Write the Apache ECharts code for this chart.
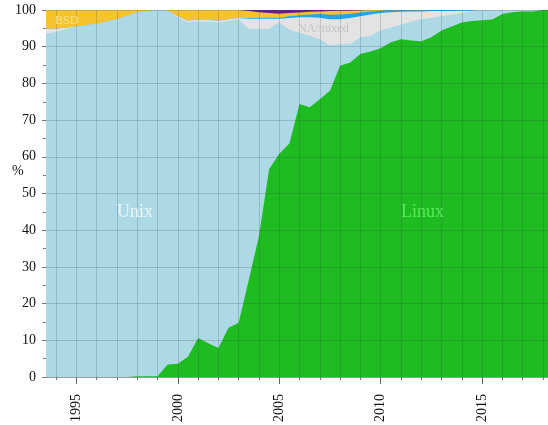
<!DOCTYPE html>
<html>
<head>
<meta charset="utf-8">
<script src="https://cdn.jsdelivr.net/npm/echarts@6/dist/echarts.min.js"></script>
<style>
  html, body { margin: 0; padding: 0; background: #fff; }
  #chart { width: 548px; height: 425px; }
</style>
</head>
<body>
<div id="chart"></div>
<script>
// TOP500 lists, June / November
var dates = [1993.5, 1994, 1994.5, 1995, 1995.5, 1996, 1996.5, 1997, 1997.5, 1998,
    1998.5, 1999, 1999.5, 2000, 2000.5, 2001, 2001.5, 2002, 2002.5, 2003,
    2003.5, 2004, 2004.5, 2005, 2005.5, 2006, 2006.5, 2007, 2007.5, 2008,
    2008.5, 2009, 2009.5, 2010, 2010.5, 2011, 2011.5, 2012, 2012.5, 2013,
    2013.5, 2014, 2014.5, 2015, 2015.5, 2016, 2016.5, 2017, 2017.5, 2018, 2018.5];

var linux = [0, 0, 0, 0, 0, 0, 0, 0, 0, 0.2,
    0.2, 0.2, 3.4, 3.6, 5.5, 10.6, 9.2, 7.9, 13.4, 14.8,
    26.5, 38.4, 56.6, 60.8, 63.6, 74.4, 73.5, 75.7, 78.0, 84.8,
    85.7, 88.0, 88.7, 89.6, 91.2, 92.0, 91.7, 91.5, 92.6, 94.4,
    95.5, 96.6, 97.0, 97.2, 97.4, 98.9, 99.4, 99.6, 99.6, 100, 100];

var unix = [93.6, 94.0, 94.8, 95.5, 95.9, 96.2, 96.9, 97.5, 98.4, 99.1,
    99.5, 99.8, 96.4, 94.4, 91.1, 86.3, 87.6, 88.7, 83.6, 82.7,
    68.3, 56.4, 38.2, 35.8, 31.0, 19.4, 19.5, 16.4, 12.3, 5.9,
    5.0, 4.6, 4.2, 4.9, 4.0, 4.0, 5.1, 6.0, 5.2, 3.9,
    3.3, 2.6, 2.6, 2.8, 2.6, 1.1, 0.6, 0.4, 0.4, 0, 0];

var mixed = [1.3, 0.9, 0.4, 0, 0, 0, 0, 0, 0, 0,
    0, 0, 0, 0.3, 0.5, 0.5, 0.5, 0.5, 0.5, 0.3,
    2.8, 2.8, 2.8, 1.0, 3.2, 4.2, 5.0, 5.8, 7.2, 6.8,
    7.1, 5.7, 5.9, 4.7, 4.2, 3.5, 2.8, 2.1, 1.9, 1.4,
    0.9, 0.6, 0.2, 0, 0, 0, 0, 0, 0, 0, 0];

var windows = [0, 0, 0, 0, 0, 0, 0, 0, 0, 0,
    0, 0, 0, 0, 0, 0, 0, 0, 0, 0,
    0.2, 0.3, 0.3, 0.3, 0.5, 0.6, 0.8, 1.0, 1.2, 1.3,
    1.2, 1.0, 0.8, 0.6, 0.5, 0.4, 0.3, 0.3, 0.3, 0.3,
    0.3, 0.2, 0.2, 0, 0, 0, 0, 0, 0, 0, 0];

var bsd = [5.1, 5.1, 4.8, 4.5, 4.1, 3.8, 3.1, 2.5, 1.6, 0.7,
    0.3, 0, 0.2, 1.7, 2.9, 2.6, 2.7, 2.9, 2.5, 2.2,
    1.9, 1.5, 1.3, 1.1, 0.9, 0.7, 0.7, 0.7, 1.0, 1.0,
    0.8, 0.6, 0.4, 0.2, 0.1, 0.1, 0.1, 0.1, 0, 0,
    0, 0, 0, 0, 0, 0, 0, 0, 0, 0, 0];

var mac = [0, 0, 0, 0, 0, 0, 0, 0, 0, 0,
    0, 0, 0, 0, 0, 0, 0, 0, 0, 0,
    0.3, 0.6, 0.8, 1.0, 0.8, 0.7, 0.5, 0.4, 0.3, 0.2,
    0.2, 0.1, 0, 0, 0, 0, 0, 0, 0, 0,
    0, 0, 0, 0, 0, 0, 0, 0, 0, 0, 0];

var yearTicks = [1994, 1995, 1996, 1997, 1998, 1999, 2000, 2001, 2002, 2003, 2004,
    2005, 2006, 2007, 2008, 2009, 2010, 2011, 2012, 2013, 2014, 2015, 2016, 2017, 2018];
var yearLabels = [1995, 2000, 2005, 2010, 2015];

var serif = '"Liberation Serif", "DejaVu Serif", serif';

// bottom to top
var layers = [
    { name: 'Linux', vals: linux, color: '#1ebc20' },
    { name: 'Unix', vals: unix, color: '#add8e6' },
    { name: 'NA/mixed', vals: mixed, color: '#e3e3e3' },
    { name: 'Windows', vals: windows, color: '#22a6ea' },
    { name: 'BSD', vals: bsd, color: '#f6c32c' },
    { name: 'Mac', vals: mac, color: '#6c1c8e' }
];

// running totals, each area filled down to 0; higher totals drawn first
var running = dates.map(function() { return 0; });
var series = layers.map(function(layer) {
    running = running.map(function(r, i) { return r + layer.vals[i]; });
    return {
        name: layer.name,
        type: 'line',
        data: running.map(function(v, i) { return [dates[i], Math.min(v, 100)]; }),
        symbol: 'none',
        lineStyle: { width: 0 },
        areaStyle: { color: layer.color, opacity: 1, origin: 'start' },
        itemStyle: { color: layer.color },
        silent: true
    };
}).reverse();

var chart = echarts.init(document.getElementById('chart'));

var gridLine = { show: true, lineStyle: { color: 'rgba(50, 60, 80, 0.2)', width: 1 } };

chart.setOption({
    animation: false,
    grid: { left: 46, right: 0, top: 10, bottom: 47 },
    xAxis: [{
        type: 'value',
        min: 1993.5,
        max: 2018.25,
        z: 5,
        axisLine: { show: true, lineStyle: { color: '#999' } },
        axisTick: { show: true, customValues: yearTicks, length: 3, lineStyle: { color: '#777' } },
        axisLabel: {
            customValues: yearLabels,
            formatter: function(v) { return String(v); },
            rotate: 90,
            margin: 17,
            color: '#111',
            fontFamily: serif,
            fontSize: 14
        },
        splitLine: gridLine
    }, {
        type: 'value',
        position: 'bottom',
        min: 1993.5,
        max: 2018.25,
        z: 5,
        axisLine: { show: false },
        axisTick: { show: true, customValues: yearLabels, length: 7, lineStyle: { color: '#666' } },
        axisLabel: { show: false },
        splitLine: { show: false }
    }],
    yAxis: {
        type: 'value',
        min: 0,
        max: 100,
        interval: 10,
        z: 5,
        axisLine: { show: false },
        axisTick: { show: true, length: 4, lineStyle: { color: '#777' } },
        minorTick: { show: true, splitNumber: 2, length: 3, lineStyle: { color: '#777' } },
        axisLabel: { color: '#111', fontFamily: serif, fontSize: 14, margin: 10 },
        splitLine: gridLine
    },
    series: series,
    graphic: [
        { type: 'text', left: 12, top: 164, style: { text: '%', fontFamily: serif, fontSize: 14, fill: '#111' } },
        { type: 'text', left: 55, top: 15, z: 10, style: { text: 'BSD', fontFamily: serif, fontSize: 12, fill: '#fbe48e' } },
        { type: 'text', left: 298, top: 23, z: 10, style: { text: 'NA/mixed', fontFamily: serif, fontSize: 12, fill: '#c2c2c2' } },
        { type: 'text', left: 117, top: 203, z: 10, style: { text: 'Unix', fontFamily: serif, fontSize: 18, fill: '#eaf6fa' } },
        { type: 'text', left: 401, top: 203, z: 10, style: { text: 'Linux', fontFamily: serif, fontSize: 18, fill: '#5ae85a' } }
    ]
});
</script>
</body>
</html>
